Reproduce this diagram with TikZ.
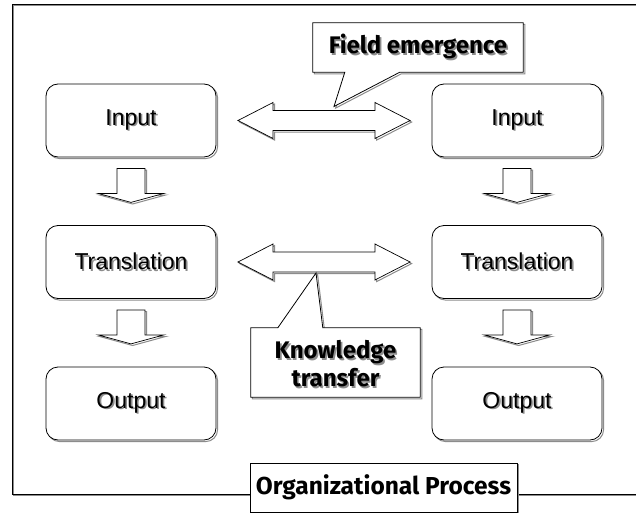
\documentclass[tikz,border=0pt]{standalone}
\usepackage{fontspec}
\setmainfont{Liberation Sans}
\newfontfamily\calloutfont{Fira Sans}
\usetikzlibrary{calc,shadows}

% text with a soft grey copy behind it
\newcommand\shd[1]{\leavevmode\rlap{\kern1.6pt\raisebox{-1.6pt}{\textcolor{black!45}{#1}}}#1}

\tikzset{
  x=1pt, y=-1pt,
  gshadow/.style={general shadow={draw=black!45, line width=1pt, shadow xshift=1.6pt, shadow yshift=-1.6pt}},
  procbox/.style={draw, line width=0.8pt, rounded corners=12pt, fill=white, gshadow,
    minimum width=170pt, minimum height=73pt, font=\fontsize{23}{25}\selectfont},
  blockarrow/.style={draw, line width=0.7pt, fill=white, line join=miter, gshadow},
  callout/.style={draw, line width=0.8pt, fill=white, line join=miter, gshadow},
  calltext/.style={font=\calloutfont\bfseries\fontsize{24}{28}\selectfont, align=center},
}

\begin{document}
\begin{tikzpicture}
\useasboundingbox (0,0) rectangle (636,513);
\clip (0,0) rectangle (636,513);
\fill[white] (0,0) rectangle (636,513);

% outer frame
\draw[line width=0.9pt, gshadow] (12,4) rectangle (680,494);

% process boxes
\node[procbox] (in1) at (131,120.5) {\shd{Input}};
\node[procbox] (tr1) at (131,262)   {\shd{Translation}};
\node[procbox] (ou1) at (131,403.5) {\shd{Output}};
\node[procbox] (in2) at (517,120.5) {\shd{Input}};
\node[procbox] (tr2) at (517,262)   {\shd{Translation}};
\node[procbox] (ou2) at (517,403.5) {\shd{Output}};

% downward block arrows
\foreach \a in {in1,tr1,in2,tr2}{
  \coordinate (\a-d) at ($(\a.south)+(0,11)$);
  \draw[blockarrow, shift={(\a-d)}]
    (-14,0) -- (14,0) -- (14,25) -- (33,25) -- (0,34) -- (-33,25) -- (-14,25) -- cycle;
}

% horizontal double block arrows
\coordinate (hA) at ($(in1.east)!0.5!(in2.west)$);
\coordinate (hB) at ($(tr1.east)!0.5!(tr2.west)$);
\foreach \c in {hA,hB}{
  \draw[blockarrow, shift={(\c)}]
    (-86,0) -- (-51,-18) -- (-51,-10) -- (51,-10) -- (51,-18) -- (86,0)
    -- (51,18) -- (51,10) -- (-51,10) -- (-51,18) -- cycle;
}

% callout: field emergence
\node[minimum width=210pt, minimum height=49pt, inner sep=0pt] (fe) at (418,47.5) {};
\coordinate (fetip) at ($(hA)+(10,-14)$);
\draw[callout] (fe.north west) -- (fe.north east) -- (fe.south east)
  -- ($(fe.south west)+(87,0)$) -- (fetip) -- ($(fe.south west)+(32,0)$)
  -- (fe.south west) -- cycle;
\node[calltext] (fet) at (fe.center) {\shd{Field emergence}};

% callout: knowledge transfer
\node[minimum width=169pt, minimum height=69pt, inner sep=0pt] (kt) at (335.5,362.5) {};
\coordinate (kttip) at ($(hB)+(-8,11)$);
\draw[callout] (kt.north west) -- ($(kt.north west)+(27,0)$) -- (kttip)
  -- ($(kt.north west)+(72,0)$) -- (kt.north east) -- (kt.south east)
  -- (kt.south west) -- cycle;
\node[calltext] (ktt) at ($(kt.center)+(0,2)$) {\shd{Knowledge}\\\shd{transfer}};

% title box on the frame
\node[draw, line width=0.8pt, fill=white, gshadow, minimum width=267pt, minimum height=49pt,
  font=\calloutfont\bfseries\fontsize{24.5}{27}\selectfont] (op) at (383.5,487.5)
  {Organizational Process};
\end{tikzpicture}
\end{document}
